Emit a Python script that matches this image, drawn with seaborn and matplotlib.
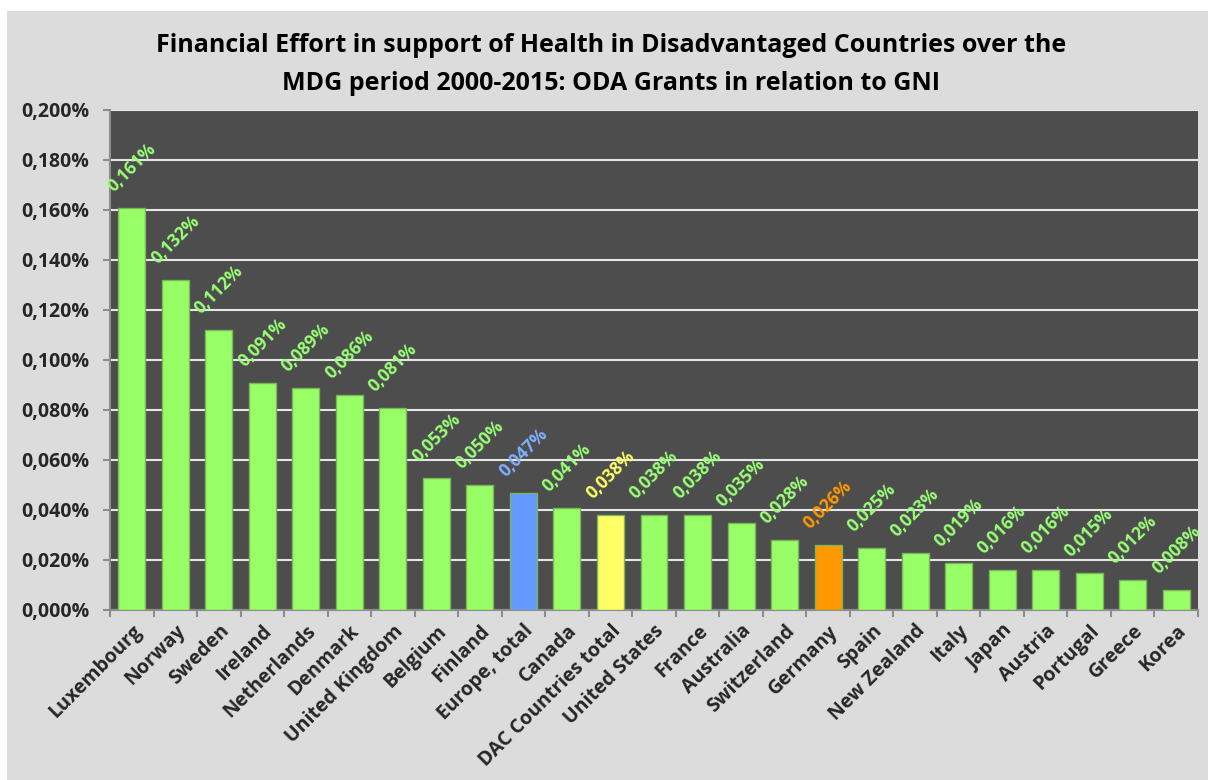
import matplotlib
matplotlib.use("Agg")
import matplotlib.pyplot as plt
import matplotlib.patches as mpatches
from matplotlib.ticker import FixedLocator, FuncFormatter
import seaborn as sns
import pandas as pd
import numpy as np

countries = ["Luxembourg", "Norway", "Sweden", "Ireland", "Netherlands", "Denmark",
             "United Kingdom", "Belgium", "Finland", "Europe, total", "Canada",
             "DAC Countries total", "United States", "France", "Australia",
             "Switzerland", "Germany", "Spain", "New Zealand", "Italy", "Japan",
             "Austria", "Portugal", "Greece", "Korea"]
values = [0.161, 0.132, 0.112, 0.091, 0.089, 0.086, 0.081, 0.053, 0.050, 0.047,
          0.041, 0.038, 0.038, 0.038, 0.035, 0.028, 0.026, 0.025, 0.023, 0.019,
          0.016, 0.016, 0.015, 0.012, 0.008]
labels = ["0,161%", "0,132%", "0,112%", "0,091%", "0,089%", "0,086%", "0,081%",
          "0,053%", "0,050%", "0,047%", "0,041%", "0,038%", "0,038%", "0,038%",
          "0,035%", "0,028%", "0,026%", "0,025%", "0,023%", "0,019%", "0,016%",
          "0,016%", "0,015%", "0,012%", "0,008%"]
yticks = [0.0, 0.02, 0.04, 0.06, 0.08, 0.10, 0.12, 0.14, 0.16, 0.18, 0.20]

GREEN = "#99ff66"
special = {"Europe, total": "#6699ff", "DAC Countries total": "#ffff66", "Germany": "#ff9900"}
label_special = {"Europe, total": "#80b0ff", "DAC Countries total": "#ffff66", "Germany": "#ff9900"}
bar_colors = [special.get(c, GREEN) for c in countries]
text_colors = [label_special.get(c, "#99ff77") for c in countries]

df = pd.DataFrame({"country": countries, "value": values})

sns.set_theme(style="white")
plt.rcParams["font.family"] = ["Open Sans", "DejaVu Sans"]

fig = plt.figure(figsize=(12.08, 7.8), dpi=100, facecolor="white")
W, H = 1208, 780
fig.patches.append(mpatches.Rectangle((7 / W, 0), 1 - 7 / W, 1 - 11 / H,
                                      transform=fig.transFigure, facecolor="#dcdcdc",
                                      edgecolor="none", zorder=-10))
ax = fig.add_axes([110 / W, 1 - 610 / H, (1198 - 110) / W, (610 - 110) / H])
ax.set_facecolor("#4d4d4d")

sns.barplot(data=df, x="country", y="value", hue="country", palette=bar_colors,
            legend=False, width=0.62, ax=ax, edgecolor="#78b858", linewidth=1.0,
            saturation=1, zorder=3)

ax.set_ylim(0, 0.2)
ax.set_xlim(-0.5, len(countries) - 0.5)
ax.yaxis.set_major_locator(FixedLocator(yticks))
ax.yaxis.set_major_formatter(FuncFormatter(lambda v, p: f"{v:.3f}%".replace(".", ",")))
ax.grid(axis="y", color="#e6e6e6", linewidth=1.5, zorder=1)
ax.set_axisbelow(True)

for sp in ["top", "right"]:
    ax.spines[sp].set_visible(False)
for sp in ["left", "bottom"]:
    ax.spines[sp].set_color("#8c8c8c")
    ax.spines[sp].set_linewidth(1.5)

ax.tick_params(axis="y", which="major", length=5, width=1.5, color="#8c8c8c",
               direction="out", left=True, labelsize=14, pad=10)
ax.set_xticks(np.arange(len(countries)))
ax.set_xticks(np.arange(len(countries) + 1) - 0.5, minor=True)
ax.tick_params(axis="x", which="major", length=0, labelsize=14, pad=8)
ax.tick_params(axis="x", which="minor", length=5, width=1.5, color="#8c8c8c",
               direction="out", bottom=True)
for lab in ax.get_yticklabels():
    lab.set_fontweight("bold")
ax.set_xticklabels(countries, rotation=45, ha="right", rotation_mode="anchor",
                   fontweight="bold")
ax.set_xlabel("")
ax.set_ylabel("")

for i, (v, t, c) in enumerate(zip(values, labels, text_colors)):
    ax.annotate(t, xy=(i, v), xytext=(0, 9), textcoords="offset points",
                ha="center", va="bottom", rotation=45, color=c, fontsize=12.5,
                fontweight="bold", zorder=5)

fig.text(611 / W, 1 - 45 / H,
         "Financial Effort in support of Health in Disadvantaged Countries over the",
         ha="center", va="center", fontsize=18, fontweight="bold", color="black")
fig.text(611 / W, 1 - 83 / H,
         "MDG period 2000-2015: ODA Grants in relation to GNI",
         ha="center", va="center", fontsize=18, fontweight="bold", color="black")

fig.savefig("out.png", dpi=100, facecolor="white")
